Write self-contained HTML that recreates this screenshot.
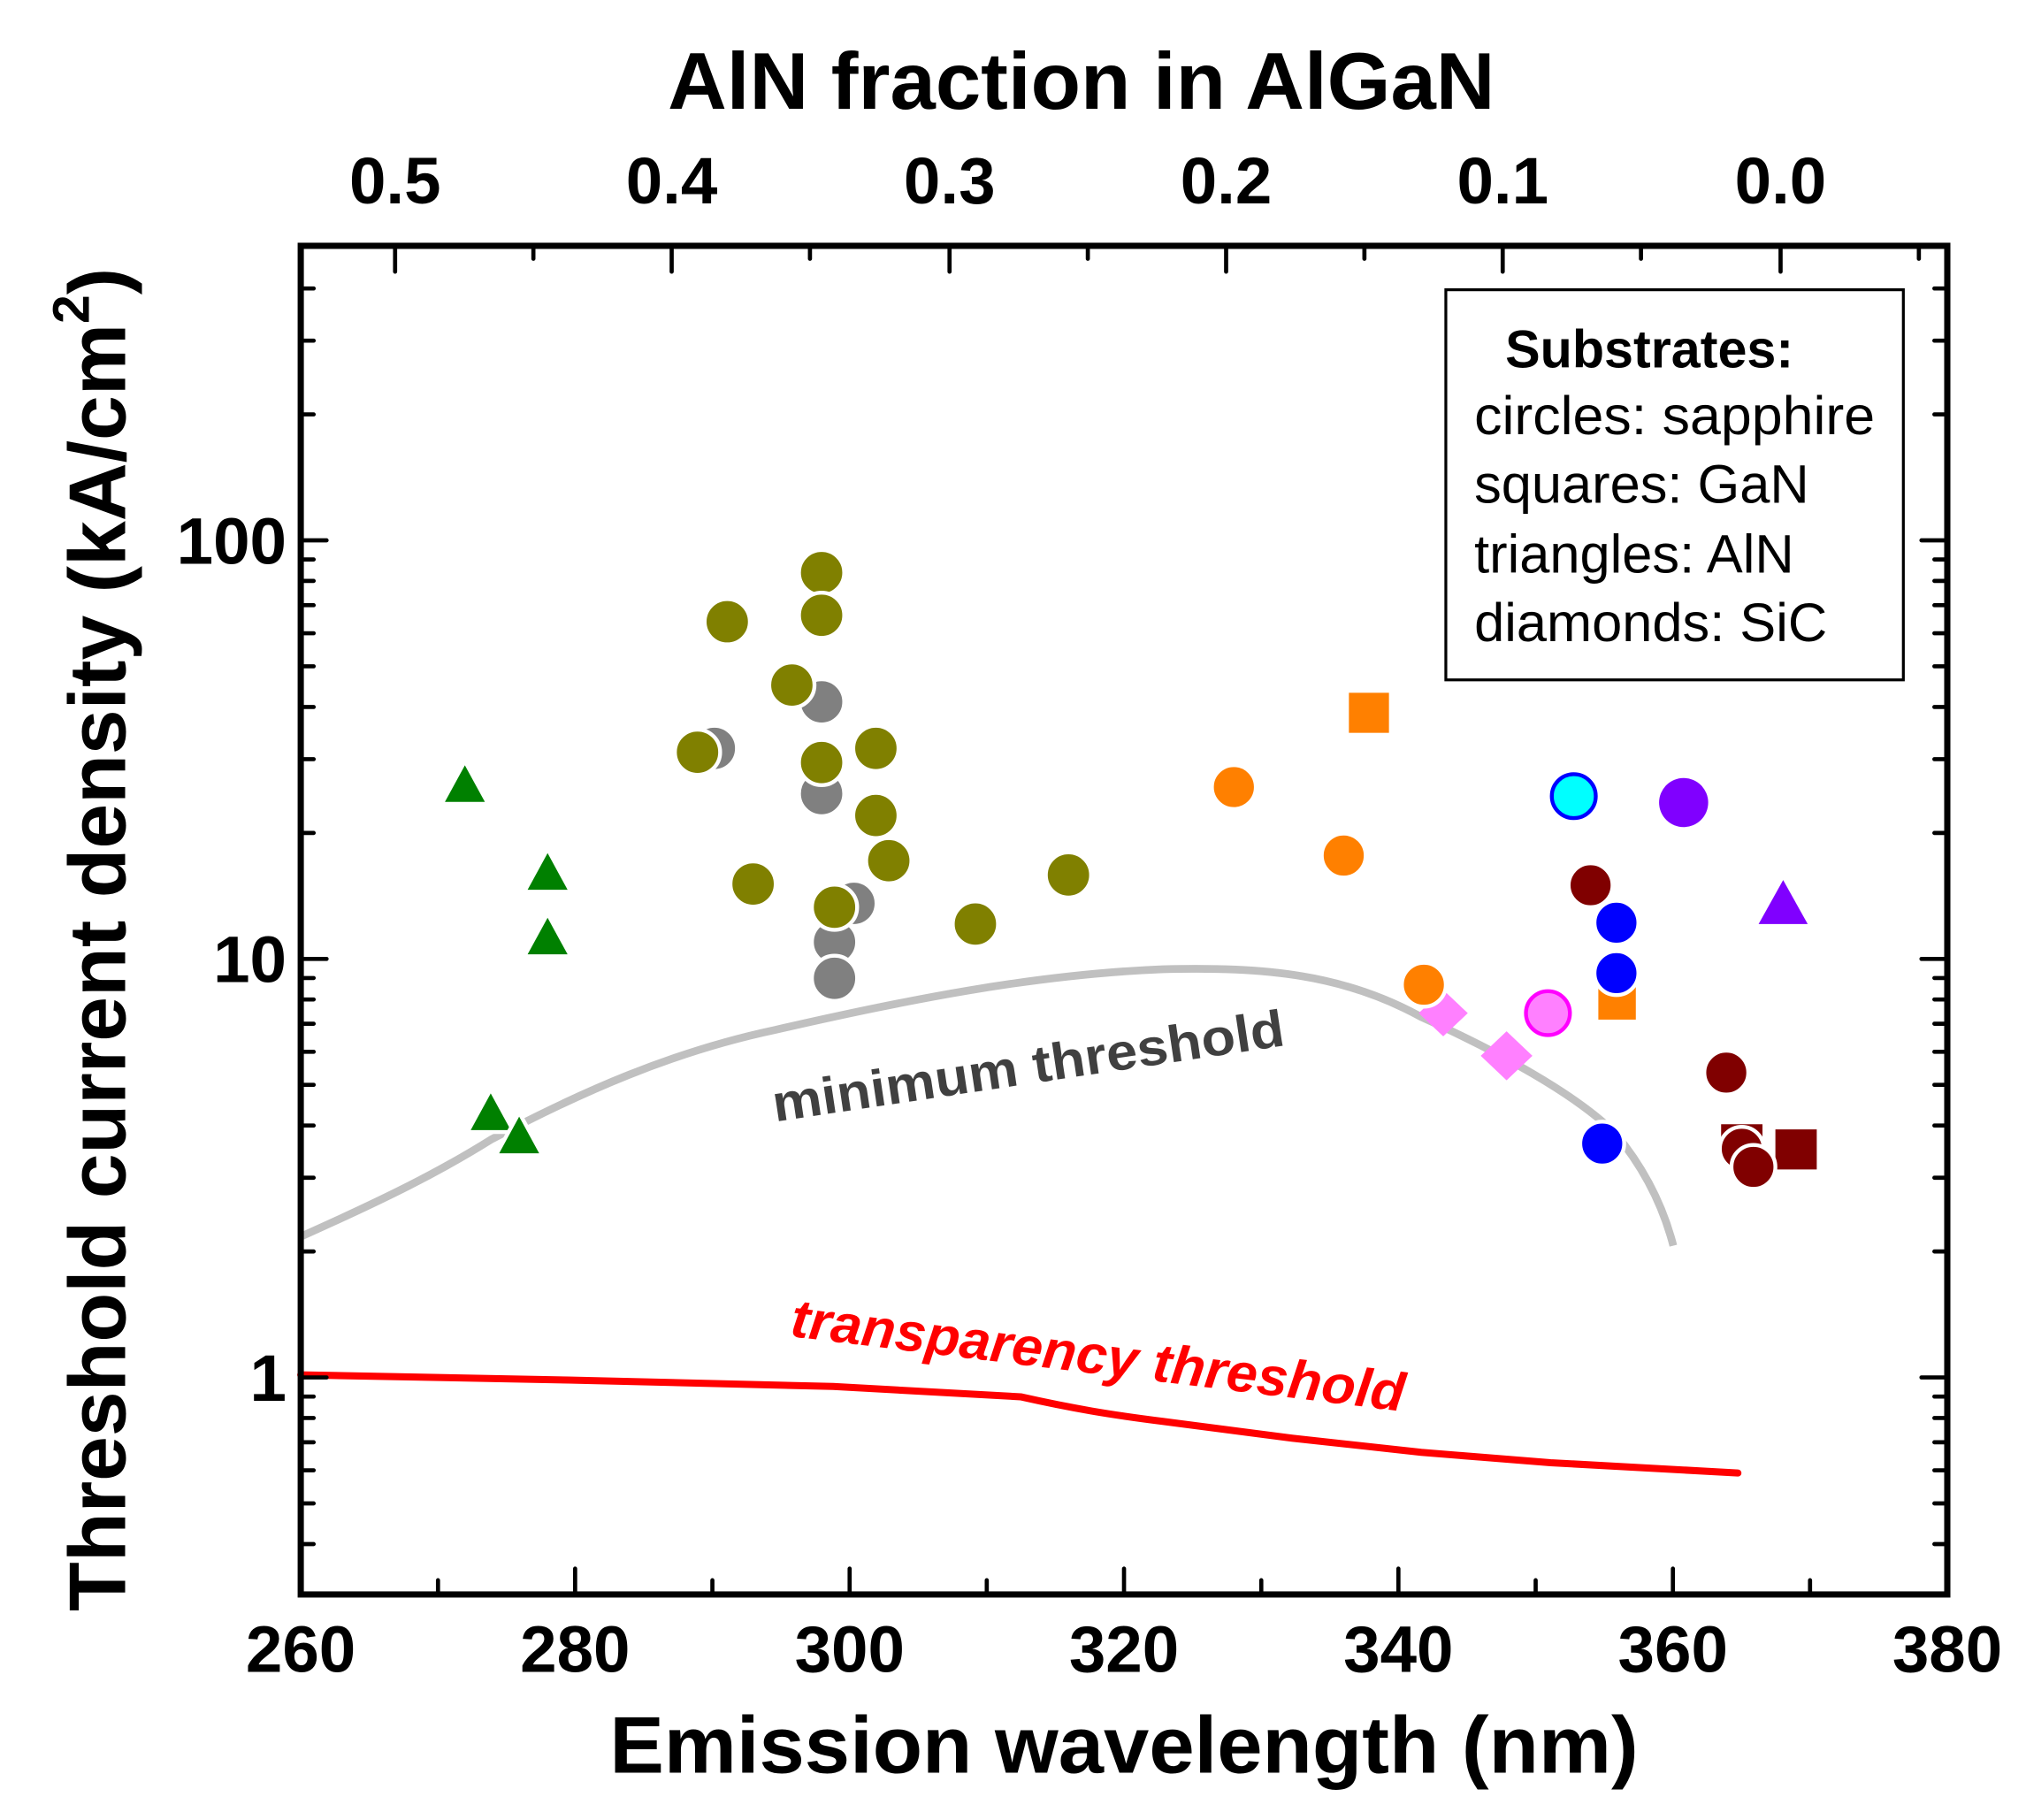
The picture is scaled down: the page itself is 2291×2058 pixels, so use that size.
<!DOCTYPE html>
<html><head><meta charset="utf-8"><style>
html,body{margin:0;padding:0;background:#fff;}
svg{display:block;}
text{font-family:"Liberation Sans",Arial,sans-serif;}
</style></head><body>
<svg width="2291" height="2058" viewBox="0.3 -2.3 1567.6 1408.9" preserveAspectRatio="none" xmlns="http://www.w3.org/2000/svg">
<rect x="0" y="-5" width="1600" height="1420" fill="#fff"/>
<!-- curves -->
<path d="M233,955 C300,925 340,905 380,880 C450,843 520,812 600,795 C700,772 800,752 900,748 C980,746 1040,752 1100,785 C1160,812 1220,845 1250,875 C1275,905 1288,935 1295,962" fill="none" stroke="#c0c0c0" stroke-width="6"/>
<path d="M233,1062 L440,1066 L645,1071 L790,1079 C830,1088 860,1093 900,1098 L1000,1111 L1100,1122 L1200,1130 L1345,1138" fill="none" stroke="#ff0000" stroke-width="5.5" stroke-linecap="round"/>
<text x="0" y="0" transform="translate(600,866) rotate(-8.5)" font-size="40" font-weight="bold" fill="#404040" textLength="400" lengthAdjust="spacingAndGlyphs">minimum threshold</text>
<text x="0" y="0" transform="translate(611,1032) rotate(7)" font-size="42" font-weight="bold" font-style="italic" fill="#ff0000" textLength="478" lengthAdjust="spacingAndGlyphs">transparency threshold</text>
<!-- markers -->
<g stroke="#fff" stroke-width="3">
<circle cx="636" cy="541" r="17.5" fill="#808080"/>
<circle cx="553" cy="577" r="17.5" fill="#808080"/>
<circle cx="636" cy="612" r="17.5" fill="#808080"/>
<circle cx="661" cy="697" r="17.5" fill="#808080"/>
<circle cx="646" cy="727" r="17.5" fill="#808080"/>
<circle cx="646" cy="755" r="17.5" fill="#808080"/>
<circle cx="636" cy="441" r="17.5" fill="#808000"/>
<circle cx="636" cy="474" r="17.5" fill="#808000"/>
<circle cx="563" cy="479" r="17.5" fill="#808000"/>
<circle cx="613" cy="528" r="17.5" fill="#808000"/>
<circle cx="540" cy="580" r="17.5" fill="#808000"/>
<circle cx="636" cy="588" r="17.5" fill="#808000"/>
<circle cx="678" cy="577" r="17.5" fill="#808000"/>
<circle cx="678" cy="629" r="17.5" fill="#808000"/>
<circle cx="688" cy="664" r="17.5" fill="#808000"/>
<circle cx="583" cy="682" r="17.5" fill="#808000"/>
<circle cx="646" cy="700" r="17.5" fill="#808000"/>
<circle cx="755" cy="713" r="17.5" fill="#808000"/>
<circle cx="827" cy="675" r="17.5" fill="#808000"/>
<polygon points="360,587 378,620 342,620" fill="#008000"/>
<polygon points="424,655 442,688 406,688" fill="#008000"/>
<polygon points="424,705 442,738 406,738" fill="#008000"/>
<polygon points="380,841 398,874 362,874" fill="#008000"/>
<polygon points="402,859 420,892 384,892" fill="#008000"/>
<rect x="1044" y="534" width="31" height="31" fill="#ff8000" stroke="none"/>
<circle cx="955" cy="607" r="17" fill="#ff8000"/>
<circle cx="1040" cy="660" r="17" fill="#ff8000"/>
<rect x="1237" y="760" width="29" height="27" fill="#ff8000" stroke="none"/>
<polygon points="1117,764 1136,782 1117,800 1098,782" fill="#ff80ff" stroke="none"/>
<circle cx="1102" cy="760" r="17" fill="#ff8000"/>
<polygon points="1166,796 1186,815 1166,834 1146,815" fill="#ff80ff" stroke="none"/>
<circle cx="1198" cy="782" r="17" fill="#ff80ff" stroke="#ff00ff" stroke-width="3"/>
<circle cx="1218" cy="614" r="17" fill="#00ffff" stroke="#0000ff" stroke-width="3"/>
<circle cx="1303" cy="619" r="19" fill="#8000ff" stroke="none"/>
<polygon points="1380,679 1399,713 1361,713" fill="#8000ff" stroke="none"/>
<circle cx="1231" cy="683" r="17" fill="#800000"/>
<circle cx="1251" cy="712" r="17" fill="#0000ff"/>
<circle cx="1251" cy="751" r="17" fill="#0000ff"/>
<circle cx="1240" cy="883" r="17" fill="#0000ff"/>
<circle cx="1336" cy="828" r="17" fill="#800000"/>
<rect x="1374" y="872" width="32" height="31" fill="#800000" stroke="none"/>
<rect x="1332" y="868" width="32" height="20" fill="#800000" stroke="none"/>
<circle cx="1348" cy="887" r="17" fill="#800000"/>
<circle cx="1357" cy="901" r="17" fill="#800000"/>
</g>
<!-- legend -->
<rect x="1119" y="222" width="354" height="302" fill="none" stroke="#000" stroke-width="2.2"/>
<text x="1165" y="282" font-size="41" font-weight="bold" textLength="223" lengthAdjust="spacingAndGlyphs">Substrates:</text>
<g font-size="42">
<text x="1141" y="334" textLength="310" lengthAdjust="spacingAndGlyphs">circles: sapphire</text>
<text x="1141" y="387">squares: GaN</text>
<text x="1141" y="441">triangles: AlN</text>
<text x="1141" y="494">diamonds: SiC</text>
</g>
<!-- ticks -->
<g stroke="#000" stroke-width="3.2" stroke-linecap="round">
<path d="M445.3,1232v-20M657.7,1232v-20M870,1232v-20M1082.3,1232v-20M1294.7,1232v-20"/>
<path d="M339.2,1232v-11M551.5,1232v-11M763.8,1232v-11M976.2,1232v-11M1188.5,1232v-11M1400.8,1232v-11"/>
<path d="M306,188v20M520,188v20M735,188v20M949,188v20M1163,188v20M1378,188v20"/>
<path d="M413,188v10M627,188v10M842,188v10M1056,188v10M1270,188v10M1485,188v10"/>
<path d="M233,416h20M233,740h20M233,1064h20M1507,416h-20M1507,740h-20M1507,1064h-20"/>
<path d="M233,318.5h10M233,261.4h10M233,221h10M233,642.5h10M233,585.4h10M233,545h10M233,513.5h10M233,487.9h10M233,466.2h10M233,447.4h10M233,430.8h10M233,966.5h10M233,909.4h10M233,869h10M233,837.5h10M233,811.9h10M233,790.2h10M233,771.4h10M233,754.8h10M233,1193h10M233,1161.5h10M233,1135.9h10M233,1114.2h10M233,1095.4h10M233,1078.8h10"/>
<path d="M1507,318.5h-10M1507,261.4h-10M1507,221h-10M1507,642.5h-10M1507,585.4h-10M1507,545h-10M1507,513.5h-10M1507,487.9h-10M1507,466.2h-10M1507,447.4h-10M1507,430.8h-10M1507,966.5h-10M1507,909.4h-10M1507,869h-10M1507,837.5h-10M1507,811.9h-10M1507,790.2h-10M1507,771.4h-10M1507,754.8h-10M1507,1193h-10M1507,1161.5h-10M1507,1135.9h-10M1507,1114.2h-10M1507,1095.4h-10M1507,1078.8h-10"/>
</g>
<rect x="233" y="188" width="1274" height="1044" fill="none" stroke="#000" stroke-width="4.8"/>
<!-- tick labels -->
<g font-size="51" font-weight="bold" text-anchor="middle">
<text x="233" y="1292">260</text><text x="445.3" y="1292">280</text><text x="657.7" y="1292">300</text><text x="870" y="1292">320</text><text x="1082.3" y="1292">340</text><text x="1294.7" y="1292">360</text><text x="1507" y="1292">380</text>
<text x="306" y="155">0.5</text><text x="520" y="155">0.4</text><text x="735" y="155">0.3</text><text x="949" y="155">0.2</text><text x="1163" y="155">0.1</text><text x="1378" y="155">0.0</text>
</g>
<g font-size="51" font-weight="bold" text-anchor="end">
<text x="222" y="434">100</text><text x="222" y="758">10</text><text x="222" y="1082">1</text>
</g>
<text x="870" y="1370" font-size="62" font-weight="bold" text-anchor="middle" textLength="796" lengthAdjust="spacingAndGlyphs">Emission wavelength (nm)</text>
<text x="837" y="82" font-size="62" font-weight="bold" text-anchor="middle" textLength="640" lengthAdjust="spacingAndGlyphs">AlN fraction in AlGaN</text>
<text transform="translate(97,1245) rotate(-90)" font-size="62" font-weight="bold" textLength="1040" lengthAdjust="spacingAndGlyphs">Threshold current density (kA/cm<tspan font-size="40" dy="-28">2</tspan><tspan dy="28">)</tspan></text>
</svg>
</body></html>
